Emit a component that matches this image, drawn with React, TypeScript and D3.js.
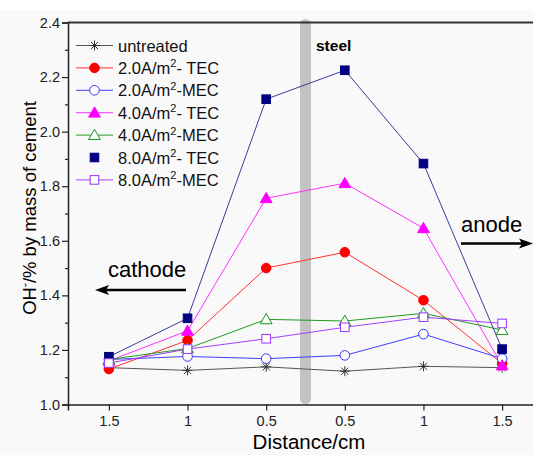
import React, { useEffect, useRef } from "react";
import * as d3 from "d3";

const categories = ["1.5", "1", "0.5", "0.5", "1", "1.5"];
const yTicks = [1.0, 1.2, 1.4, 1.6, 1.8, 2.0, 2.2, 2.4];

const untreated = [1.135, 1.125, 1.138, 1.122, 1.14, 1.135];
const tec2 = [1.13, 1.235, 1.5, 1.558, 1.382, 1.15];
const mec2 = [1.165, 1.176, 1.168, 1.18, 1.258, 1.168];
const tec4 = [1.16, 1.27, 1.756, 1.811, 1.646, 1.143];
const mec4 = [1.165, 1.205, 1.312, 1.306, 1.334, 1.273];
const tec8 = [1.175, 1.316, 2.119, 2.225, 1.883, 1.203];
const mec8 = [1.152, 1.203, 1.241, 1.283, 1.32, 1.297];

const seriesNames = ["untreated", "2.0A/m|2|- TEC", "2.0A/m|2|-MEC", "4.0A/m|2|- TEC", "4.0A/m|2|-MEC", "8.0A/m|2|- TEC", "8.0A/m|2|-MEC"];
const seriesData = [untreated, tec2, mec2, tec4, mec4, tec8, mec8];
const seriesColors = ["#333333", "#ff0000", "#3333ff", "#ff00ff", "#119911", "#000080", "#9933ff"];
const lineColors = ["#555555", "#ff3030", "#4040ff", "#ff30ff", "#229922", "#3a3aa0", "#a040ff"];
const seriesMarkers = ["star", "circle", "circle", "triangle", "triangle", "square", "square"];
const seriesFilled = [true, true, false, true, false, true, false];
const legendLine = [true, true, true, true, true, false, true];

const W = 533;
const H = 455;
const FONT = "Liberation Sans, Arial, sans-serif";

const App = () => {
  const ref = useRef<SVGSVGElement>(null);

  useEffect(() => {
    const svg = d3.select(ref.current);
    svg.selectAll("*").remove();

    const x = d3.scaleLinear().domain([-0.52, 5.52]).range([68, 543]);
    const y = d3.scaleLinear().domain([1.0, 2.4]).range([404.5, 22.5]);

    svg.append("rect").attr("width", W).attr("height", H).attr("fill", "#ffffff");
    svg.append("rect").attr("y", 10).attr("width", W).attr("height", H - 10).attr("fill", "#f9f9f9");

    // steel bar
    svg.append("rect")
      .attr("x", (x(2) + x(3)) / 2 - 5.5)
      .attr("y", 19)
      .attr("width", 11)
      .attr("height", 385)
      .attr("rx", 5.5)
      .attr("fill", "#c3c3c3");
    svg.append("text")
      .attr("x", 316).attr("y", 51)
      .attr("font-family", FONT).attr("font-size", 15.5).attr("font-weight", "bold")
      .text("steel");

    // axes
    const yAxis = d3.axisLeft(y).tickValues(yTicks).tickFormat(d3.format(".1f")).tickSizeOuter(0).tickSize(6).tickPadding(2);
    const gy = svg.append("g").attr("transform", "translate(68,0)").call(yAxis);
    gy.selectAll("text").attr("font-family", FONT).attr("font-size", 14.5).attr("fill", "#222");
    const yMinor = d3.axisLeft(y).tickValues(d3.range(1.1, 2.4, 0.2)).tickFormat(() => "").tickSizeOuter(0).tickSize(3);
    svg.append("g").attr("transform", "translate(68,0)").call(yMinor).select(".domain").remove();

    const xAxis = d3.axisBottom(x).tickValues(d3.range(categories.length)).tickFormat((d) => categories[d as number]).tickSizeOuter(0).tickSize(6).tickPadding(5);
    const gx = svg.append("g").attr("transform", "translate(0,404.5)").call(xAxis);
    gx.selectAll("text").attr("font-family", FONT).attr("font-size", 14.5).attr("fill", "#222");
    svg.selectAll(".domain").attr("stroke", "#222").attr("stroke-width", 1.5);
    svg.selectAll(".tick line").attr("stroke", "#222").attr("stroke-width", 1.2);

    svg.append("line").attr("x1", 68).attr("x2", W).attr("y1", 22.5).attr("y2", 22.5).attr("stroke", "#333").attr("stroke-width", 2);

    // axis titles
    svg.append("text")
      .attr("x", 309).attr("y", 449).attr("text-anchor", "middle")
      .attr("font-family", FONT).attr("font-size", 20.5).text("Distance/cm");
    const yt = svg.append("text")
      .attr("transform", "translate(36,208) rotate(-90)").attr("text-anchor", "middle")
      .attr("font-family", FONT).attr("font-size", 18.5);
    yt.append("tspan").text("OH");
    yt.append("tspan").attr("dy", -7).attr("font-size", 12).text("-");
    yt.append("tspan").attr("dy", 7).text("/% by mass of cement");

    const drawMarker = (g: any, kind: string, cx: number, cy: number, color: string, filled: boolean) => {
      const fill = filled ? color : "#ffffff";
      if (kind === "circle") {
        g.append("circle").attr("cx", cx).attr("cy", cy).attr("r", 4.8).attr("fill", fill).attr("stroke", color).attr("stroke-width", 1);
      } else if (kind === "square") {
        g.append("rect").attr("x", cx - 4.3).attr("y", cy - 4.3).attr("width", 8.6).attr("height", 8.6).attr("fill", fill).attr("stroke", color).attr("stroke-width", 1);
      } else if (kind === "triangle") {
        g.append("path").attr("d", d3.symbol(d3.symbolTriangle, 60)()).attr("transform", `translate(${cx},${cy + 1})`).attr("fill", fill).attr("stroke", color).attr("stroke-width", 1);
      } else {
        const r = 5;
        const p = d3.path();
        for (let k = 0; k < 4; k++) {
          const a = (k * Math.PI) / 4;
          p.moveTo(cx - r * Math.cos(a), cy - r * Math.sin(a));
          p.lineTo(cx + r * Math.cos(a), cy + r * Math.sin(a));
        }
        g.append("path").attr("d", p.toString()).attr("stroke", color).attr("stroke-width", 1).attr("fill", "none");
      }
    };

    const line = d3.line<number>().x((_, i) => x(i)).y((v) => y(v));

    seriesData.forEach((data, s) => {
      svg.append("path").attr("d", line(data)).attr("fill", "none").attr("stroke", lineColors[s]).attr("stroke-width", 1);
    });
    seriesData.forEach((data, s) => {
      const g = svg.append("g");
      data.forEach((v, i) => drawMarker(g, seriesMarkers[s], x(i), y(v), seriesColors[s], seriesFilled[s]));
    });

    // legend
    seriesNames.forEach((name, s) => {
      const ly = 45.5 + s * 22.4;
      const g = svg.append("g");
      if (legendLine[s]) {
        g.append("line").attr("x1", 76).attr("x2", 113).attr("y1", ly).attr("y2", ly).attr("stroke", lineColors[s]).attr("stroke-width", 1);
      }
      drawMarker(g, seriesMarkers[s], 94.5, ly, seriesColors[s], seriesFilled[s]);
      const parts = name.split("|");
      const t = g.append("text").attr("x", 118).attr("y", ly + 6).attr("font-family", FONT).attr("font-size", 16.5).attr("fill", "#111");
      t.append("tspan").text(parts[0]);
      if (parts.length > 1) {
        t.append("tspan").attr("dy", -6.5).attr("font-size", 11).text(parts[1]);
        t.append("tspan").attr("dy", 6.5).text(parts[2]);
      }
    });

    // electrode annotations
    const arrow = (x1: number, x2: number, yy: number) => {
      const dir = Math.sign(x2 - x1);
      svg.append("line").attr("x1", x1).attr("x2", x2 - dir * 10).attr("y1", yy).attr("y2", yy).attr("stroke", "#000").attr("stroke-width", 2.5);
      svg.append("path")
        .attr("d", `M${x2},${yy} L${x2 - dir * 14},${yy - 5} L${x2 - dir * 11},${yy} L${x2 - dir * 14},${yy + 5} Z`)
        .attr("fill", "#000");
    };
    svg.append("text").attr("x", 108).attr("y", 277).attr("font-family", FONT).attr("font-size", 22).text("cathode");
    arrow(186, 95, 290);
    svg.append("text").attr("x", 461).attr("y", 232).attr("font-family", FONT).attr("font-size", 22).text("anode");
    arrow(461, 533, 243.5);
  }, []);

  return (
    <svg ref={ref} width={W} height={H} style={{ position: "absolute", left: 0, top: 0 }} />
  );
};

export default App;
